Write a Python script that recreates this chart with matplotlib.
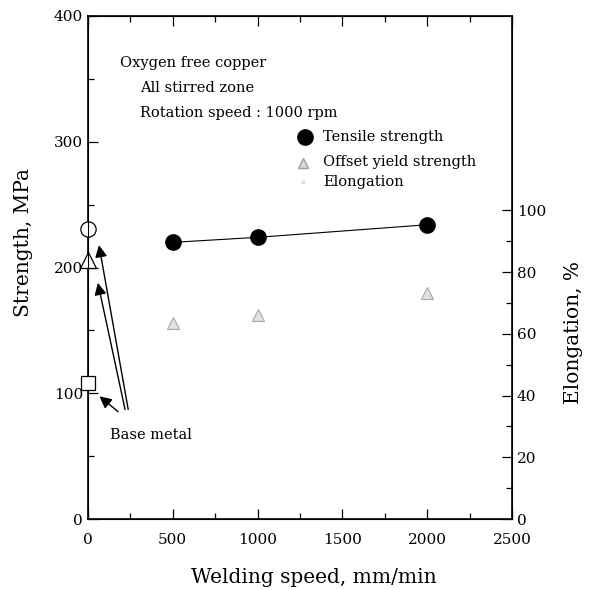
import matplotlib.pyplot as plt
from matplotlib.ticker import MultipleLocator

plt.rcParams['font.family'] = 'DejaVu Serif'

# data
speeds = [500, 1000, 2000]
tensile = [220, 224, 234]
yield_str = [156, 162, 180]

base_speed = 0
base_tensile = 231
base_yield = 206
base_elong = 44

fig = plt.figure(figsize=(5.92, 5.90), dpi=100)
ax = fig.add_axes([0.1486, 0.1203, 0.7162, 0.8526])

ax.plot(speeds, tensile, color='k', lw=0.8, marker='o', ms=11,
        mfc='k', mec='k', zorder=3)
ax.plot(speeds, yield_str, ls='none', marker='^', ms=8,
        mfc='#e2e2e2', mec='#a8a8a8', mew=0.8, zorder=3)

# base metal
ax.plot(base_speed, base_tensile, marker='o', ms=11, mfc='white', mec='k',
        mew=0.9, clip_on=False, zorder=4)
ax.plot(base_speed, base_yield, marker='^', ms=11, mfc='white', mec='k',
        mew=0.9, clip_on=False, zorder=4)

ax.set_xlim(0, 2500)
ax.set_ylim(0, 400)
ax.xaxis.set_major_locator(MultipleLocator(500))
ax.xaxis.set_minor_locator(MultipleLocator(250))
ax.yaxis.set_major_locator(MultipleLocator(100))
ax.yaxis.set_minor_locator(MultipleLocator(50))
ax.tick_params(which='both', direction='in', top=True, right=False,
               labelsize=11, width=0.9)
ax.tick_params(which='major', length=7)
ax.tick_params(which='minor', length=4)
ax.tick_params(axis='x', pad=10)
for s in ax.spines.values():
    s.set_linewidth(1.2)

ax.set_xlabel('Welding speed, mm/min', fontsize=14.5, va='center')
ax.xaxis.set_label_coords(0.533, -0.117)
ax.set_ylabel('Strength, MPa', fontsize=14.5, va='center')
ax.yaxis.set_label_coords(-0.152, 0.55)

# right axis for elongation
ax2 = ax.twinx()
ax2.set_ylim(0, 163)
ax2.plot(base_speed, base_elong, marker='s', ms=10, mfc='white', mec='k',
         mew=0.9, clip_on=False, zorder=4)
ax2.set_yticks([0, 20, 40, 60, 80, 100])
ax2.set_yticks([10, 30, 50, 70, 90], minor=True)
ax2.tick_params(which='both', direction='in', labelsize=11, width=0.9)
ax2.tick_params(which='major', length=7)
ax2.tick_params(which='minor', length=4)
ax2.set_ylabel('Elongation, %', fontsize=14.5, va='center')
ax2.yaxis.set_label_coords(1.144, 0.37)

# annotations
ax.text(190, 363, 'Oxygen free copper', fontsize=10.5, va='center')
ax.text(307, 343, 'All stirred zone', fontsize=10.5, va='center')
ax.text(307, 323, 'Rotation speed : 1000 rpm', fontsize=10.5, va='center')

ax.plot(1280, 304, marker='o', ms=11, color='k', clip_on=False)
ax.plot(1268, 283, marker='^', ms=7, mfc='#d8d8d8', mec='#a0a0a0')
ax.plot(1268, 268, marker='.', ms=4, color='#e0e0e0')
ax.text(1385, 304, 'Tensile strength', fontsize=10.5, va='center')
ax.text(1385, 284, 'Offset yield strength', fontsize=10.5, va='center')
ax.text(1385, 268, 'Elongation', fontsize=10.5, va='center')

arrow = dict(arrowstyle='-|>', lw=1, color='k', mutation_scale=18)
ax.annotate('', xy=(62, 220), xytext=(240, 85), arrowprops=arrow)
ax.annotate('', xy=(55, 190), xytext=(222, 85), arrowprops=arrow)
ax.annotate('', xy=(55, 99), xytext=(190, 84), arrowprops=arrow)
ax.text(130, 67, 'Base metal', fontsize=10.5, va='center')

plt.savefig('out.png', dpi=100)
